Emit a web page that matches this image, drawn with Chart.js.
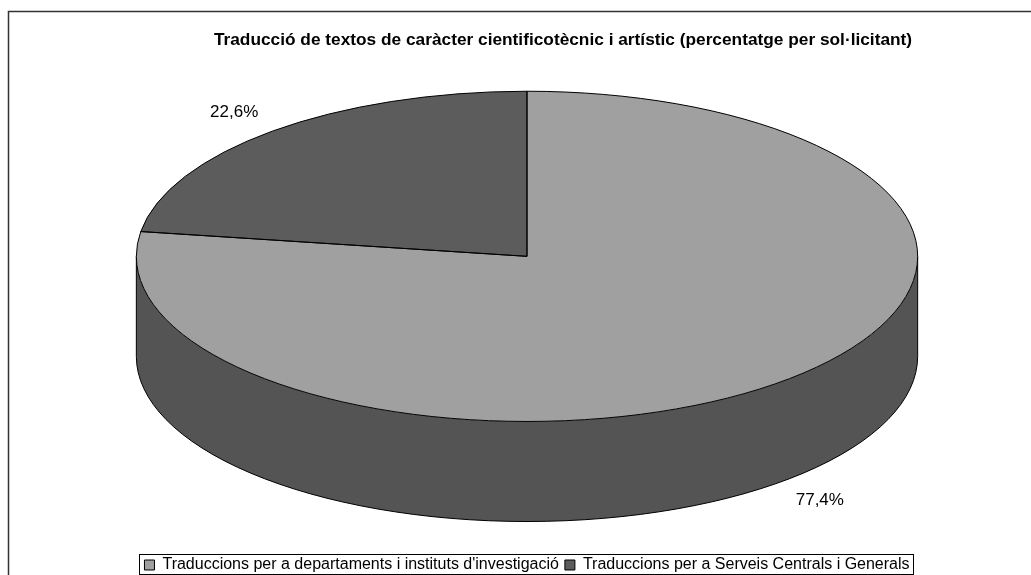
<!DOCTYPE html>
<html>
<head>
<meta charset="utf-8">
<script src="https://cdn.jsdelivr.net/npm/chart.js@4"></script>
<style>html,body{margin:0;padding:0;background:#fff}canvas{display:block}</style>
</head>
<body>
<canvas id="chart" width="1031" height="575"></canvas>
<script>
// Dades del gràfic
const titleText = 'Traducció de textos de caràcter cientificotècnic i artístic (percentatge per sol·licitant)';
const categories = ["Traduccions per a departaments i instituts d'investigació", 'Traduccions per a Serveis Centrals i Generals'];
const percentages = [77.4, 22.6];

// Colors: cara superior i lateral de cada porció
const topColors = ['#a0a0a0', '#5c5c5c'];
const sideColors = ['#545454', '#404040'];

// Efecte 3D, proporcions respecte al radi del pastís
const squashX = 1.597, squashY = 0.675, depthRatio = 0.409, labelOut = 1.15;

Chart.defaults.font.family = "'Liberation Sans', Arial, sans-serif";
Chart.defaults.color = '#000';

function fmt(v) { return v.toFixed(1).replace('.', ',') + '%'; }

function geom(chart) {
  const arcs = chart.getDatasetMeta(0).data;
  const r = arcs[0].outerRadius;
  const depth = r * depthRatio;
  return { arcs, r, cx: arcs[0].x, cy: arcs[0].y, ex: arcs[0].x, ey: arcs[0].y - depth / 2,
           a: r * squashX, b: r * squashY, depth };
}

const pie3d = {
  id: 'pie3d',
  beforeDraw(chart) {
    const ctx = chart.ctx;
    ctx.save();
    ctx.fillStyle = '#fff';
    ctx.fillRect(0, 0, chart.width, chart.height);
    // marc exterior del gràfic
    ctx.strokeStyle = '#333';
    ctx.lineWidth = 1.5;
    ctx.strokeRect(8.5, 11.5, chart.width + 20, chart.height + 20);
    ctx.restore();
  },
  afterLayout(chart) {
    // el títol va centrat sobre tot el marc, no sobre el pastís
    chart.titleBlock.left += 36;
    chart.titleBlock.right += 36;
  },
  beforeDatasetsDraw(chart) {
    const g = geom(chart);
    const ctx = chart.ctx;
    ctx.save();
    // lateral del pastís (només la meitat del davant és visible)
    g.arcs.forEach((arc, i) => {
      const lo = Math.max(arc.startAngle, 0), hi = Math.min(arc.endAngle, Math.PI);
      if (hi <= lo) return;
      ctx.beginPath();
      ctx.ellipse(g.ex, g.ey, g.a, g.b, 0, lo, hi);
      ctx.ellipse(g.ex, g.ey + g.depth, g.a, g.b, 0, hi, lo, true);
      ctx.closePath();
      ctx.fillStyle = sideColors[i];
      ctx.fill();
    });
    ctx.beginPath();
    ctx.moveTo(g.ex + g.a, g.ey);
    ctx.ellipse(g.ex, g.ey + g.depth, g.a, g.b, 0, 0, Math.PI);
    ctx.lineTo(g.ex - g.a, g.ey);
    ctx.strokeStyle = '#000';
    ctx.lineWidth = 1;
    ctx.stroke();
    ctx.restore();
    // la cara superior la dibuixa Chart.js, aixafada en el·lipse
    ctx.save();
    ctx.translate(g.ex, g.ey);
    ctx.scale(g.a / g.r, g.b / g.r);
    ctx.translate(-g.cx, -g.cy);
  },
  afterDatasetsDraw(chart) {
    const ctx = chart.ctx;
    ctx.restore();
    const g = geom(chart);
    ctx.save();
    ctx.strokeStyle = '#000';
    ctx.lineWidth = 1;
    g.arcs.forEach(arc => {
      ctx.beginPath();
      ctx.moveTo(g.ex, g.ey);
      ctx.ellipse(g.ex, g.ey, g.a, g.b, 0, arc.startAngle, arc.endAngle);
      ctx.closePath();
      ctx.stroke();
    });
    // etiquetes de percentatge
    ctx.font = "17px 'Liberation Sans', Arial, sans-serif";
    ctx.fillStyle = '#000';
    ctx.textAlign = 'center';
    ctx.textBaseline = 'middle';
    g.arcs.forEach((arc, i) => {
      const mid = (arc.startAngle + arc.endAngle) / 2;
      const s = Math.sin(mid);
      const x = g.ex + Math.cos(mid) * g.a * labelOut;
      const y = g.ey + s * g.b * labelOut + (s > 0 ? g.depth : 0);
      ctx.fillText(fmt(percentages[i]), x, y);
    });
    ctx.restore();
  },
  afterDraw(chart) {
    // requadre de la llegenda
    const hb = chart.legend.legendHitBoxes;
    if (!hb || !hb.length) return;
    const ctx = chart.ctx;
    const left = Math.min(...hb.map(h => h.left)) - 5;
    const right = Math.max(...hb.map(h => h.left + h.width)) + 4;
    const mid = hb[0].top + hb[0].height / 2;
    ctx.save();
    ctx.strokeStyle = '#000';
    ctx.lineWidth = 1;
    ctx.strokeRect(Math.round(left) + 0.5, Math.round(mid - 11) + 0.5, Math.round(right - left), 20);
    ctx.restore();
  }
};

const config = {
  type: 'pie',
  data: {
    labels: categories,
    datasets: [{
      data: percentages,
      backgroundColor: topColors,
      borderWidth: 0,
      hoverOffset: 0,
      clip: false
    }]
  },
  options: {
    responsive: false,
    animation: false,
    events: [],
    layout: { padding: { top: 30, left: 30, right: 7, bottom: -8 } },
    plugins: {
      title: {
        display: true,
        text: titleText,
        font: { size: 17.3, weight: 'bold' },
        padding: { top: 0, bottom: 11 }
      },
      legend: {
        position: 'bottom',
        labels: {
          boxWidth: 10,
          boxHeight: 10,
          padding: 6,
          font: { size: 16 },
          generateLabels: () => categories.map((t, i) => ({
            text: t, fillStyle: topColors[i], strokeStyle: '#000', lineWidth: 1, hidden: false, index: i
          }))
        }
      },
      tooltip: { enabled: false }
    }
  },
  plugins: [pie3d]
};

const chart = new Chart(document.getElementById('chart').getContext('2d'), config);
</script>
</body>
</html>
